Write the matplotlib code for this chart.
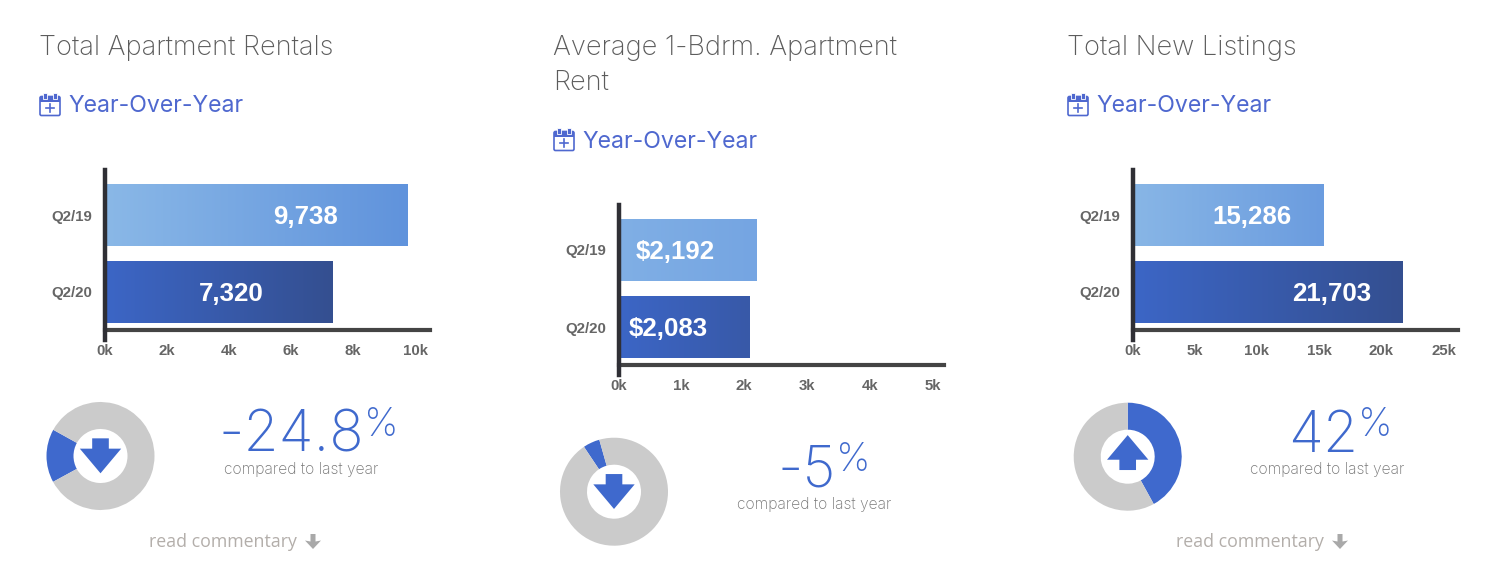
"""Three year-over-year apartment market panels: bar chart, donut and percent change"""

import numpy as np
import matplotlib
matplotlib.use("Agg")
import matplotlib.pyplot as plt
from matplotlib.patches import Polygon, Rectangle, FancyBboxPatch

# Chart values
periods = ["Q2/19", "Q2/20"]
rentals = [9738, 7320]
rent = [2192, 2083]
listings = [15286, 21703]
rentals_labels = ["9,738", "7,320"]
rent_labels = ["$2,192", "$2,083"]
listings_labels = ["15,286", "21,703"]
rentals_ticks = [0, 2000, 4000, 6000, 8000, 10000]
rent_ticks = [0, 1000, 2000, 3000, 4000, 5000]
listings_ticks = [0, 5000, 10000, 15000, 20000, 25000]
donut_shares = [16, 5, 42]
changes = ["-24.8", "-5", "42"]

W, H = 1500, 574
BLUE = "#3f69cd"
LINK = "#4f68cf"
GREY = "#cbcbcb"
LIGHT_FONT = {"family": "Inter", "weight": "light"}

fig = plt.figure(figsize=(W / 100, H / 100), dpi=100, facecolor="white")

# Pixel coordinate overlay for the text and icons
over = fig.add_axes([0, 0, 1, 1], zorder=5)
over.set_xlim(0, W)
over.set_ylim(H, 0)
over.axis("off")


def px_axes(x0, y0, x1, y1):
    return fig.add_axes([x0 / W, 1 - y1 / H, (x1 - x0) / W, (y1 - y0) / H])


def k_label(v):
    return "%dk" % (v / 1000)


def arrow_points(cx, cy, r, up):
    pts = np.array([[-.154, -.327], [.154, -.327], [.154, -.136], [.383, -.136], [0, .32],
                    [-.383, -.136], [-.154, -.136]])
    if up:
        pts = pts * [1, -1] + [0, -.08]
    return pts * r + [cx, cy]


def calendar(x, y):
    over.add_patch(FancyBboxPatch((x + 1, y + 3.5), 20, 19, boxstyle="round,pad=0,rounding_size=1.5",
                                  fc="none", ec=LINK, lw=1.2))
    over.add_patch(Rectangle((x + 1, y + 3.5), 20, 5, fc=LINK, ec="none"))
    for dx in (6, 16):
        over.add_patch(Rectangle((x + dx - 1.6, y), 3.2, 6, fc=LINK, ec="white", lw=0.6))
    over.plot([x + 7, x + 15], [y + 15, y + 15], color=LINK, lw=1.2)
    over.plot([x + 11, x + 11], [y + 11, y + 19], color=LINK, lw=1.2)


def panel(x0, dy, title_lines, values, labels, label_x, ticks, x_per_k, x_end, colors,
          share, start, clockwise, center, up, change, num_right, pct_x, compared_x, read_x):
    # Heading
    for i, line in enumerate(title_lines):
        over.text(x0, 55 + 35 * i, line, fontsize=19.6, color="#5c5c5c", va="baseline", **LIGHT_FONT)
    calendar(x0, 93 + dy)
    over.text(x0 + 29.5, 112.5 + dy, "Year-Over-Year", fontsize=16.6, color=LINK, va="baseline",
              family="Inter")

    # Bars
    x_axis = x0 + 65.5
    top, bottom = 170 + dy, 340 + dy
    ax = px_axes(x_axis, top, x_end, bottom)
    ypos = np.arange(len(values))
    bars = ax.barh(ypos, values, height=0.8, color="none")
    for bar, cols in zip(bars, colors):
        grad = np.linspace(0, 1, 256)[None, :, None]
        c0 = np.array(matplotlib.colors.to_rgb(cols[0]))
        c1 = np.array(matplotlib.colors.to_rgb(cols[1]))
        img = ax.imshow(c0 + (c1 - c0) * grad, aspect="auto", zorder=2,
                        extent=[0, bar.get_width(), bar.get_y() + bar.get_height(), bar.get_y()])
        img.set_clip_path(bar)
    ax.set_xlim(0, (x_end - x_axis) / x_per_k * 1000)
    ax.set_ylim((bottom - 215 - dy) / 77, (top - 215 - dy) / 77)
    for side in ("top", "right"):
        ax.spines[side].set_visible(False)
    ax.spines["left"].set_linewidth(3.2)
    ax.spines["left"].set_color("#2f2f35")
    ax.spines["bottom"].set_linewidth(3)
    ax.spines["bottom"].set_color("#444444")
    ax.spines["bottom"].set_position(("outward", -7.2))
    ax.spines["left"].set_zorder(4)
    ax.patch.set_alpha(0)
    ax.set_yticks(ypos, periods)
    ax.set_xticks(ticks, [k_label(t) for t in ticks])
    ax.tick_params(length=0, labelsize=10.8, labelcolor="#666666")
    ax.tick_params(axis="x", pad=10)
    ax.tick_params(axis="y", pad=9)
    for lab in ax.get_xticklabels() + ax.get_yticklabels():
        lab.set_fontfamily("Liberation Sans")
        lab.set_fontweight("bold")
    for i, label in enumerate(labels):
        over.text(label_x[i], 224 + 77 * i + dy, label, color="white", fontsize=18.6, ha="center", va="baseline",
                  family="Liberation Sans", weight="bold")

    # Donut
    cx, cy = center
    dax = px_axes(cx - 54, cy - 54, cx + 54, cy + 54)
    dax.pie([share, 100 - share], colors=[BLUE, GREY], startangle=start, counterclock=not clockwise,
            radius=1, wedgeprops={"width": 0.5})
    dax.set_xlim(-1, 1)
    dax.set_ylim(-1, 1)
    over.add_patch(Polygon(arrow_points(cx, cy, 54, up), fc=BLUE, ec="none"))

    # Percent change
    over.text(num_right, 451.7 + dy, change, color=BLUE, fontsize=41, ha="right", va="baseline", **LIGHT_FONT)
    over.text(pct_x, 436 + dy, "%", color=BLUE, fontsize=28, ha="left", va="baseline", **LIGHT_FONT)
    over.text(compared_x, 474 + dy, "compared to last year", color="#777777", fontsize=11.3, va="baseline",
              **LIGHT_FONT)

    # Commentary link sits at the same height in every column that has it
    if read_x is not None:
        over.text(read_x, 547, "read commentary", color="#b3aeaa", fontsize=12.75, va="baseline", family="Open Sans")
        ax_x = read_x + 164
        over.add_patch(Polygon(np.array([[-2.5, -7.5], [2.5, -7.5], [2.5, 0], [8, -1], [0, 7.5], [-8, -1],
                                         [-2.5, 0]]) + [ax_x, 541.5], fc="#a9a9a9", ec="none"))


panel(39, 0, ["Total Apartment Rentals"], rentals, rentals_labels, [305, 231], rentals_ticks, 31.1, 430,
      [("#8ab8e7", "#6093dc"), ("#3c66c6", "#344f90")],
      donut_shares[0], 151, False, (100.5, 456), False, changes[0], 364, 364.5, 224, 149)

panel(553, 35, ["Average 1-Bdrm. Apartment", "Rent"], rent, rent_labels, [675, 668], rent_ticks, 62.8, 944,
      [("#80afe5", "#75a5e2"), ("#3c66c6", "#3859a8")],
      donut_shares[1], 105.8, False, (614, 491.7), False, changes[1], 836, 836.5, 737, None)

panel(1067, 0, ["Total New Listings"], listings, listings_labels, [1252, 1332], listings_ticks, 12.44, 1458,
      [("#88b6e6", "#6b9cdf"), ("#3c66c6", "#344f90")],
      donut_shares[2], 90, True, (1127.7, 456.7), True, changes[2], 1358, 1358.5, 1250, 1176)

fig.savefig("out.png", dpi=100, facecolor="white")
